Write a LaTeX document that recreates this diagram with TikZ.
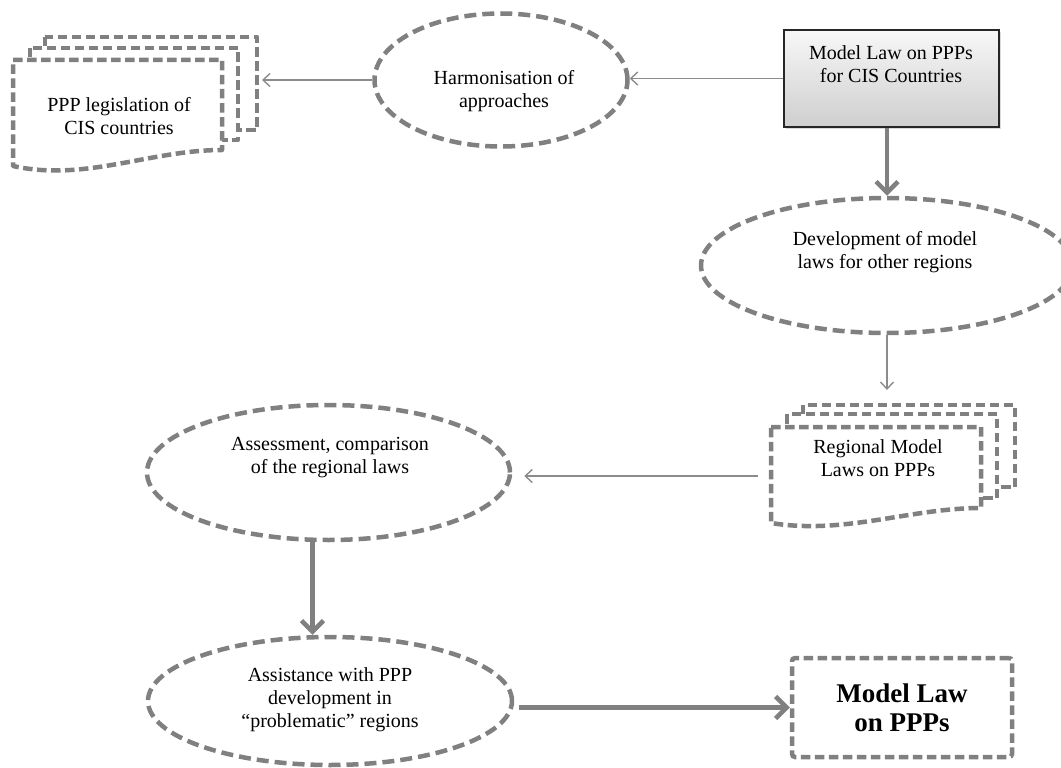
\documentclass[tikz,border=0pt]{standalone}
\usepackage{fontspec}
\setmainfont{Liberation Serif}
\usetikzlibrary{shapes.geometric,arrows.meta,shadows}
\definecolor{dgray}{RGB}{128,128,128}
\definecolor{agray}{RGB}{140,140,140}
\begin{document}
\begin{tikzpicture}[x=1pt,y=-1pt,
 dashline/.style={draw=dgray, line width=4.5pt, dash pattern=on 12pt off 6pt},
 boxdash/.style={draw=dgray, line width=4.5pt, dash pattern=on 9.5pt off 4.5pt},
 ell/.style={ellipse, dashline, inner sep=0pt},
 lbl/.style={align=center, font=\fontsize{20}{23}\selectfont, inner sep=0pt},
 thinarrow/.style={draw=agray, line width=1.4pt, -{Straight Barb[length=7pt,width=13pt]}},
 thickarrow/.style={draw=dgray, line width=4.5pt, -{Straight Barb[length=11pt,width=22pt]}},
 docshape/.style={boxdash, fill=white, line join=round}
]
\useasboundingbox (0,0) rectangle (1061,768);

% ellipses
\node[ell, minimum width=253pt, minimum height=133pt] (harm) at (501,80) {};
\node[lbl] (harmT) at (504,91) {Harmonisation of\\approaches};

\node[ell, minimum width=372pt, minimum height=135pt] (dev) at (887,265.5) {};
\node[lbl] (devT) at (885,252) {Development of model\\laws for other regions};

\node[ell, minimum width=363pt, minimum height=135pt] (assess) at (328.5,472.5) {};
\node[lbl] (assessT) at (330,458) {Assessment, comparison\\of the regional laws};

\node[ell, minimum width=364pt, minimum height=128pt] (assist) at (330,701) {};
\node[lbl] (assistT) at (330,700) {Assistance with PPP\\development in\\“problematic” regions};

% top right box
\node[draw=black!85, line width=1.5pt, top color=gray!6, bottom color=gray!38,
      minimum width=215pt, minimum height=97pt, inner sep=0pt,
      drop shadow={opacity=0.3, shadow xshift=2pt, shadow yshift=-2pt}] (mlcis) at (891.5,78.5) {};
\node[lbl] (mlcisT) at (891,64) {Model Law on PPPs\\for CIS Countries};

% final box
\node[boxdash, rounded corners=3pt, minimum width=220pt, minimum height=99pt, align=center,
      font=\fontsize{27}{29}\selectfont\bfseries, inner sep=0pt] (final) at (902,707.5) {Model Law\\on PPPs};

% left document stack
\draw[docshape] (45,37) rectangle (257,130);
\draw[docshape] (30,48) rectangle (238,140);
\draw[docshape] (13,60) -- (222,60) -- (222,150) .. controls (150,150) and (85,182) .. (13,166) -- cycle;
\node[lbl] (legis) at (119,116) {PPP legislation of\\CIS countries};
\coordinate (legisE) at (262,80);

% right document stack
\draw[docshape] (803,405) rectangle (1015,487);
\draw[docshape] (787,414) rectangle (997,498);
\draw[docshape] (771,427) -- (981,427) -- (981,508) .. controls (910,508) and (845,535) .. (771,523) -- cycle;
\node[lbl] (reg) at (878,458) {Regional Model\\Laws on PPPs};
\coordinate (regN) at (887,390);
\coordinate (regW) at (758,476);

% connectors
\draw[thinarrow] (mlcis.west) -- (mlcis.west -| harm.east);
\draw[thinarrow] (harm.west) -- (harm.west -| legisE);
\draw[thickarrow] (mlcis.south -| dev.north) -- (dev.north);
\draw[thinarrow] (dev.south) -- (dev.south |- regN);
\draw[thinarrow, shorten >=12pt] (regW) -- (regW -| assess.east);
\draw[thickarrow] ([xshift=-16pt]assess.south) -- ([xshift=-16pt]assess.south |- assist.north);
\draw[thickarrow, shorten <=5pt] (assist.east |- final.west) -- (final.west);
\end{tikzpicture}
\end{document}
